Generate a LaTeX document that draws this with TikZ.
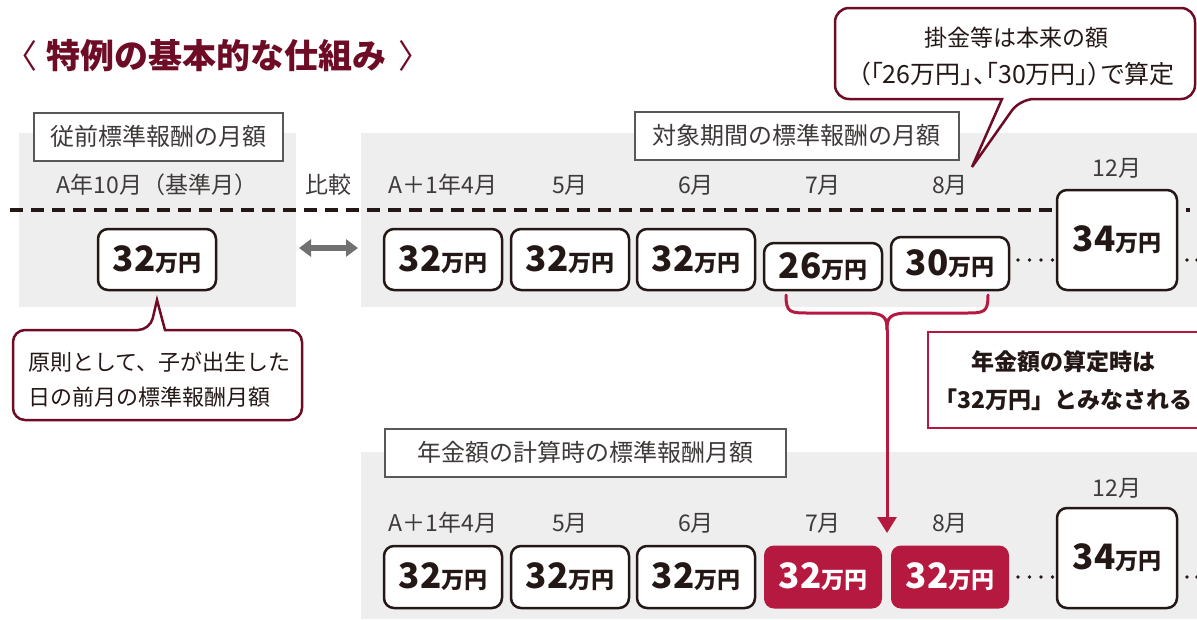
\documentclass[tikz,border=0pt]{standalone}
\usepackage{fontspec}
\setmainfont{Noto Sans CJK JP}
\newfontfamily\jpp[RawFeature=+palt]{Noto Sans CJK JP}
\usetikzlibrary{arrows.meta}
\definecolor{ink}{HTML}{231815}
\definecolor{txt}{HTML}{3E3A39}
\definecolor{panel}{HTML}{EEEEEE}
\definecolor{maroon}{HTML}{6E0B25}
\definecolor{crimson}{HTML}{B5193F}
\definecolor{lblborder}{HTML}{595757}
\definecolor{cmpgray}{HTML}{727171}
\newcommand{\amt}[1]{{\fontsize{35}{35}\selectfont\bfseries #1}{\fontsize{23}{23}\selectfont\bfseries 万円}}
\tikzset{
  panelbg/.style={fill=panel, draw=none},
  lbl/.style={draw=lblborder, line width=1.5pt, fill=white, inner sep=0pt, minimum height=48pt, font=\fontsize{24}{24}\selectfont, text=txt},
  month/.style={font=\fontsize{23}{23}\selectfont, text=txt, inner sep=0pt},
  amtbox/.style={draw=ink, line width=2.5pt, rounded corners=10pt, fill=white, text=ink, minimum width=118pt, inner sep=0pt},
  hibox/.style={fill=crimson, rounded corners=10pt, text=white, minimum width=118pt, inner sep=0pt},
  callout/.style={draw=maroon, line width=2.5pt, fill=white},
  dashline/.style={draw=ink, line width=3.5pt, dash pattern=on 13pt off 8pt},
  dotmark/.style={fill=ink},
  brace/.style={draw=crimson, line width=3pt},
}
\begin{document}
\begin{tikzpicture}[x=1pt,y=-1pt]
\useasboundingbox (0,0) rectangle (1197,619);
% title
\node[font=\fontsize{34}{34}\selectfont\bfseries, text=maroon, anchor=west, inner sep=0pt] (title) at (46,56) {特例の基本的な仕組み};
\node[font=\fontsize{33}{33}\selectfont, text=maroon, inner sep=0pt] (tl) at (21.5,56) {〈};
\node[font=\fontsize{33}{33}\selectfont, text=maroon, inner sep=0pt] (tr) at (415,56) {〉};
% panels
\fill[panelbg] (19,133) rectangle (296,307);
\fill[panelbg] (361,133) rectangle (1197,307);
\fill[panelbg] (361,452) rectangle (1197,619);
% labels
\node[lbl, minimum width=249pt, anchor=north west] (lbA) at (33,112) {従前標準報酬の月額};
\node[lbl, minimum width=324pt, anchor=north west] (lbB) at (634,111) {対象期間の標準報酬の月額};
\node[lbl, minimum width=401pt, anchor=north west] (lbC) at (384,428) {年金額の計算時の標準報酬月額};
% dashed line
\coordinate (dl) at (10,210);
\coordinate (dr) at (1190,210);
\draw[dashline] (dl) -- (dr);
% month labels top
\node[month] (m0) at (157,185) {A年10月（基準月）};
\node[month] (cmp) at (328,185) {比較};
\node[month] (m1) at (443,185) {A＋1年4月};
\node[month] (m2) at (570,185) {5月};
\node[month] (m3) at (696,185) {6月};
\node[month] (m4) at (823,185) {7月};
\node[month] (m5) at (950,185) {8月};
\node[month] (m6) at (1117,168) {12月};
% top boxes
\node[amtbox, minimum height=61pt] (b0) at (157,259.5) {\amt{32}};
\node[amtbox, minimum height=61pt] (t1) at (443,259.5) {\amt{32}};
\node[amtbox, minimum height=61pt] (t2) at (570,259.5) {\amt{32}};
\node[amtbox, minimum height=61pt] (t3) at (696,259.5) {\amt{32}};
\node[amtbox, minimum height=47pt] (t4) at (823,266.5) {\amt{26}};
\node[amtbox, minimum height=53pt] (t5) at (950,263.5) {\amt{30}};
\node[amtbox, minimum height=100pt, minimum width=120pt] (t6) at (1117,240) {\amt{34}};
\foreach \x in {1018,1029.5,1041,1052.5,1187,1197} {\fill[dotmark] (\x,260) circle (1.9pt);}
% compare arrow
\coordinate (cmpL) at (299,248);
\coordinate (cmpR) at (358,248);
\draw[cmpgray, line width=5.5pt, {Triangle[width=17pt,length=12pt]}-{Triangle[width=17pt,length=12pt]}] (cmpL) -- (cmpR);
% left callout
\draw[callout] (157,300) -- (165,330) [rounded corners=12pt] -- (302,330) -- (302,420) -- (13,420) -- (13,330) -- (150,330) [sharp corners] -- cycle;
\node[font=\fontsize{22}{35}\selectfont, text=ink, align=left, anchor=west, inner sep=0pt] (note1) at (28,380) {原則として、子が出生した\\日の前月の標準報酬月額};
% top callout
\draw[callout] (972,167) -- (1002,99) [rounded corners=14pt] -- (835,99) -- (835,8) -- (1195,8) -- (1195,99) -- (1020,99) [sharp corners] -- cycle;
\node[font=\fontsize{23}{37}\selectfont, text=ink, align=center, inner sep=0pt] (note2) at (1016,56) {掛金等は本来の額\\{\jpp\fontsize{25}{37}\selectfont（「26万円」、「30万円」）で算定}};
% brace and arrow
\coordinate (brL) at (786,295);
\coordinate (brR) at (988,295);
\coordinate (brC) at (887,330);
\coordinate (arrEnd) at (887,533);
\draw[brace, line cap=round] (brL) .. controls (786,313) and (790,313) .. (810,313) -- (865,313) .. controls (885,313) and (887,318) .. (brC);
\draw[brace, line cap=round] (brR) .. controls (988,313) and (984,313) .. (964,313) -- (909,313) .. controls (889,313) and (887,318) .. (brC);
\draw[brace, -{Triangle[width=19pt,length=16pt]}] (brC) -- (arrEnd);
% red note box
\draw[draw=crimson, line width=2.5pt, fill=white] (928,332) rectangle (1210,428);
\node[font=\fontsize{23}{38}\selectfont\bfseries, text=ink, align=center, inner sep=0pt] (note3) at (1063,381) {年金額の算定時は\\「32万円」とみなされる};
% bottom month labels
\node[month] (n1) at (443,523) {A＋1年4月};
\node[month] (n2) at (570,523) {5月};
\node[month] (n3) at (696,523) {6月};
\node[month] (n4) at (823,523) {7月};
\node[month] (n5) at (950,523) {8月};
\node[month] (n6) at (1117,488) {12月};
% bottom boxes
\node[amtbox, minimum height=62pt] (u1) at (443,577) {\amt{32}};
\node[amtbox, minimum height=62pt] (u2) at (570,577) {\amt{32}};
\node[amtbox, minimum height=62pt] (u3) at (696,577) {\amt{32}};
\node[hibox, minimum height=63pt] (u4) at (823,577) {\amt{32}};
\node[hibox, minimum height=63pt] (u5) at (950,577) {\amt{32}};
\node[amtbox, minimum height=100pt, minimum width=120pt] (u6) at (1117,558) {\amt{34}};
\foreach \x in {1018,1029.5,1041,1052.5,1187,1197} {\fill[dotmark] (\x,577) circle (1.9pt);}
\end{tikzpicture}
\end{document}
